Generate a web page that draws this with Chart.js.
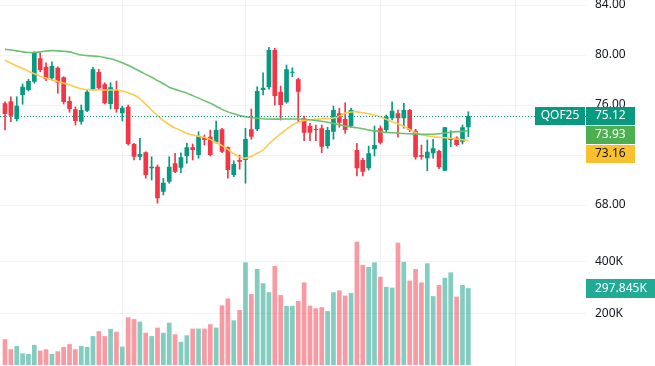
<!DOCTYPE html>
<html>
<head>
<meta charset="utf-8">
<script src="https://cdn.jsdelivr.net/npm/chart.js@4.4.1/dist/chart.umd.min.js"></script>
<style>
  html,body{margin:0;padding:0;background:#fff;}
  #wrap{width:655px;height:366px;position:relative;}
</style>
</head>
<body>
<div id="wrap"><canvas id="c"></canvas></div>
<script>
const symbol = 'QOF25';
const opens  = [76.14,76.3,74.88,76.8,77.2,77.86,79.74,79.06,78.14,78.98,78.22,76.32,75.66,74.66,75.54,77.26,78.64,77.66,76.08,77.2,
                75.34,75.86,72.88,71.86,72.22,70.94,71.06,69.06,69.86,71.34,70.98,71.92,72.62,72.0,73.38,73.46,73.0,74.06,72.62,70.4,
                71.6,71.6,74.06,74.06,77.2,77.42,80.4,77.06,76.22,78.58,78.06,74.94,74.32,74.08,74.14,72.72,73.86,75.34,74.88,74.32,
                72.4,71.6,70.94,72.46,74.14,74.0,74.94,75.34,74.94,75.6,73.94,72.0,71.74,72.14,72.32,70.74,73.2,73.38,73.06,74.22];
const highs  = [76.26,76.66,76.66,77.68,78.06,80.26,80.14,79.38,79.46,79.06,78.26,76.66,75.86,76.0,77.26,79.02,78.86,77.78,77.78,77.92,
                75.9,76.0,72.94,73.34,72.26,71.86,71.2,70.14,71.86,72.14,72.18,72.94,72.88,73.86,73.6,74.0,74.72,74.14,72.66,71.54,
                72.0,74.14,75.68,77.46,78.58,80.62,80.54,77.52,79.2,78.98,78.14,75.12,74.54,74.4,74.4,74.22,75.92,75.74,76.18,75.74,
                72.94,71.74,72.72,74.32,74.32,75.2,76.26,75.6,76.14,75.66,74.06,72.8,73.2,73.26,72.4,74.22,73.94,73.46,74.4,75.46];
const lows   = [74.0,74.66,74.72,76.06,77.12,77.74,78.66,77.94,78.0,76.94,76.08,75.42,74.4,74.46,75.46,77.2,77.26,76.08,75.68,75.42,
                74.72,72.8,71.6,71.6,70.14,70.0,68.14,68.8,69.74,70.58,70.58,71.34,71.6,71.74,72.8,71.92,72.94,72.18,70.14,70.26,
                70.86,69.74,73.26,73.94,76.8,77.26,76.0,74.8,76.14,78.26,74.66,73.14,73.14,73.14,72.18,72.54,73.26,74.22,73.74,74.22,
                70.32,70.32,70.8,71.92,72.88,73.86,74.8,73.42,74.14,73.86,71.66,71.66,70.74,71.74,70.9,70.74,72.66,72.72,72.88,73.46];
const closes = [75.28,75.14,75.94,77.46,77.92,80.18,78.8,78.06,79.12,77.78,76.24,75.68,74.72,75.6,77.06,78.86,77.34,76.14,77.42,75.66,
                75.78,72.88,71.86,72.08,70.4,71.06,68.54,69.78,71.06,70.66,71.82,72.62,72.4,73.52,73.2,72.0,74.0,72.26,70.8,71.28,
                71.46,73.28,73.46,77.12,77.38,80.4,76.72,76.0,78.86,78.66,77.06,73.78,73.78,74.0,72.66,74.0,75.6,74.58,74.0,75.6,
                70.94,70.66,72.14,72.8,72.98,75.06,75.54,74.94,75.6,74.0,71.82,71.86,72.26,72.54,71.02,74.22,73.34,72.8,74.22,75.12];
// volume in thousands
const volumes = [100,61,74,45,43,78,56,61,43,53,70,81,61,74,70,112,131,112,140,129,
                 71,185,178,168,125,112,145,125,164,119,90,115,141,141,141,158,145,231,258,173,
                 213,398,275,372,317,282,384,271,229,229,248,320,230,220,224,209,282,289,269,279,
                 478,388,380,398,342,303,300,474,400,327,372,320,394,267,310,338,359,265,310,297.845];
const maFast = [79.58,79.35,79.12,78.92,78.7,78.5,78.3,78.15,78.0,77.88,77.75,77.62,77.45,77.3,77.22,77.2,77.22,77.2,77.2,77.2,
                77.12,76.98,76.8,76.5,76.05,75.6,75.15,74.75,74.42,74.15,73.95,73.72,73.6,73.5,73.4,73.25,73.0,72.75,72.45,72.1,
                71.85,71.75,71.9,72.14,72.4,72.9,73.3,73.7,74.05,74.4,74.62,74.76,74.82,74.86,74.9,74.92,74.96,75.1,75.35,75.44,
                75.45,75.38,75.3,75.2,75.05,74.85,74.65,74.5,74.28,74.05,73.8,73.62,73.52,73.46,73.42,73.38,73.34,73.28,73.22,73.16];
const maSlow = [80.45,80.4,80.33,80.25,80.2,80.2,80.25,80.32,80.35,80.33,80.3,80.25,80.12,80.0,79.95,79.92,79.88,79.8,79.7,79.56,
                79.38,79.18,78.94,78.7,78.45,78.22,77.95,77.7,77.42,77.25,77.1,76.95,76.75,76.55,76.35,76.15,75.9,75.65,75.45,75.3,
                75.15,75.06,75.0,74.94,74.9,74.88,74.87,74.87,74.88,74.88,74.88,74.86,74.82,74.76,74.7,74.62,74.52,74.42,74.32,74.24,
                74.18,74.1,74.0,73.93,73.86,73.8,73.78,73.75,73.72,73.7,73.68,73.66,73.65,73.66,73.7,73.76,73.82,73.87,73.9,73.93];
const priceTicks  = [68,72,76,80,84];
const volumeTicks = [200,400];
const monthTicks  = [20,41,64,87];

const UP = '#089981', DOWN = '#F23645';
const UP_VOL = 'rgba(8,153,129,0.5)', DOWN_VOL = 'rgba(242,54,69,0.5)';
const SLOW_COL = '#6CC06F', FAST_COL = '#FFC94D';
const FONT = { family:"'Noto Sans', sans-serif", size:12 };
const GRID = 'rgba(42,46,57,0.06)';

const idx = closes.map((_,i)=>i);
const isUp = i => closes[i] >= opens[i];
const candleCol = idx.map(i => isUp(i) ? UP : DOWN);
const noPad = s => { s.paddingTop = 0; s.paddingBottom = 0; s.paddingLeft = 0; s.paddingRight = 0; };

const overlay = {
  id:'overlay',
  afterDatasetsDraw(chart){
    const {ctx, chartArea:a, scales:{y}} = chart;
    const py = y.getPixelForValue(closes[closes.length-1]);
    ctx.save();
    ctx.strokeStyle = UP; ctx.lineWidth = 1; ctx.setLineDash([1,2]);
    ctx.beginPath(); ctx.moveTo(a.left, Math.round(py)+0.5); ctx.lineTo(a.right, Math.round(py)+0.5); ctx.stroke();
    ctx.restore();
  },
  afterDraw(chart){
    const {ctx, chartArea:a, scales:{y, yv}} = chart;
    const last = closes.length-1;
    const labels = [
      {v:closes[last], bg:UP, fg:'#fff'},
      {v:maSlow[last], bg:'#4CAF50', fg:'#fff'},
      {v:maFast[last], bg:'#FBC02D', fg:'#131722'}
    ];
    ctx.save();
    ctx.font = `${FONT.size}px ${FONT.family}`;
    ctx.textBaseline = 'middle';
    let prev = -Infinity;
    labels.forEach((l,k) => {
      let cy = Math.max(y.getPixelForValue(l.v), prev + 19);
      prev = cy;
      ctx.fillStyle = l.bg; ctx.fillRect(a.right, Math.round(cy-9), 49, 18);
      ctx.fillStyle = l.fg; ctx.textAlign = 'left'; ctx.fillText(l.v.toFixed(2), a.right+9, cy);
      if(k===0){
        ctx.fillStyle = l.bg; ctx.fillRect(a.right-51, Math.round(cy-9), 50, 18);
        ctx.fillStyle = '#fff'; ctx.textAlign = 'center'; ctx.fillText(symbol, a.right-26, cy);
      }
    });
    const vy = yv.getPixelForValue(volumes[last]);
    ctx.fillStyle = '#22AB94'; ctx.fillRect(a.right, Math.round(vy-9.5), 80, 19);
    ctx.fillStyle = '#fff'; ctx.textAlign = 'left'; ctx.fillText(volumes[last] + 'K', a.right+9, vy);
    ctx.restore();
  }
};

new Chart(document.getElementById('c'), {
  type:'bar',
  data:{ datasets:[
    { type:'line', data:idx.map(i=>({x:i, y:maSlow[i]})), yAxisID:'y', borderColor:SLOW_COL, borderWidth:1.6,
      pointRadius:0, tension:0.3, order:1 },
    { type:'line', data:idx.map(i=>({x:i, y:maFast[i]})), yAxisID:'y', borderColor:FAST_COL, borderWidth:1.6,
      pointRadius:0, tension:0.3, order:1 },
    { data:idx.map(i=>({x:i, y:[opens[i], closes[i]]})), yAxisID:'y', backgroundColor:candleCol,
      grouped:false, categoryPercentage:1, barPercentage:0.8, minBarLength:1, order:2 },
    { data:idx.map(i=>({x:i, y:[lows[i], highs[i]]})), yAxisID:'y', backgroundColor:candleCol,
      grouped:false, barThickness:1, order:3 },
    { data:idx.map(i=>({x:i, y:volumes[i]})), yAxisID:'yv', backgroundColor:idx.map(i=>isUp(i)?UP_VOL:DOWN_VOL),
      grouped:false, categoryPercentage:1, barPercentage:0.8, order:4 }
  ]},
  options:{
    responsive:true, maintainAspectRatio:false, animation:false,
    layout:{ padding:0 },
    plugins:{ legend:{display:false}, tooltip:{enabled:false} },
    scales:{
      x:{ type:'linear', min:-0.853, max:99.06, offset:false,
          grid:{color:GRID, drawTicks:false, offset:false}, border:{display:false},
          ticks:{display:false, padding:0},
          afterBuildTicks:s=>{ s.ticks = monthTicks.map(v=>({value:v})); },
          afterFit:s=>{ s.height = 0; noPad(s); } },
      y:{ position:'right', stack:'pane', stackWeight:230, min:66.0, max:84.4,
          grid:{color:GRID, drawTicks:false}, border:{display:false},
          ticks:{color:'#131722', font:FONT, padding:9, callback:v=>v.toFixed(2)},
          afterBuildTicks:s=>{ s.ticks = priceTicks.map(v=>({value:v})); },
          afterFit:s=>{ s.width = 69; noPad(s); } },
      yv:{ position:'right', stack:'pane', stackWeight:136, min:-3.9, max:523.3,
          grid:{color:GRID, drawTicks:false}, border:{display:false},
          ticks:{color:'#131722', font:FONT, padding:9, callback:v=>v+'K'},
          afterBuildTicks:s=>{ s.ticks = volumeTicks.map(v=>({value:v})); },
          afterFit:s=>{ s.width = 69; noPad(s); } }
    }
  },
  plugins:[overlay]
});
</script>
</body>
</html>
